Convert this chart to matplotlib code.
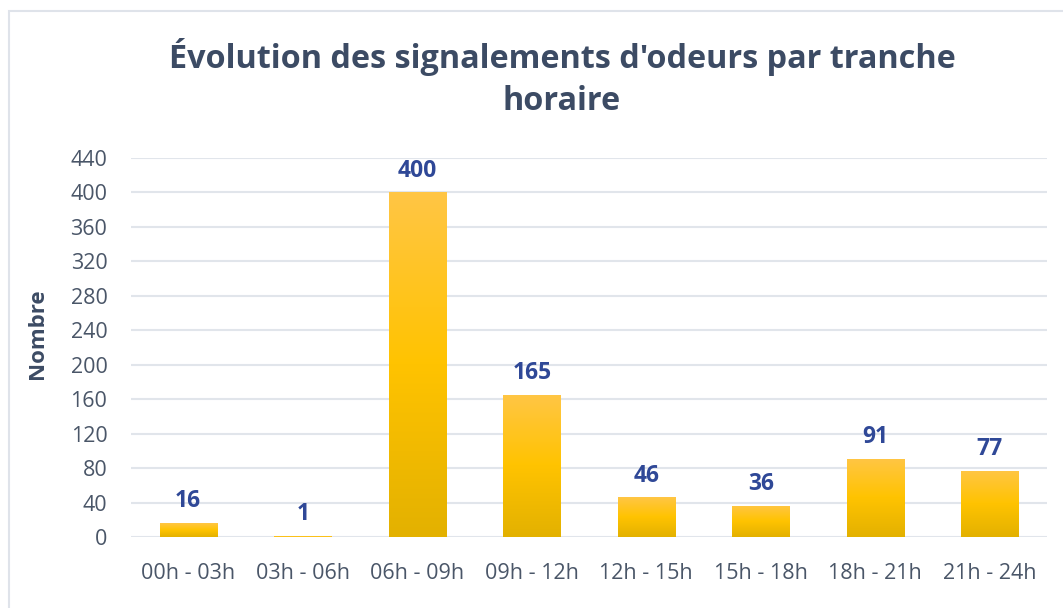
import matplotlib
matplotlib.use("Agg")
import matplotlib.pyplot as plt
import numpy as np
from matplotlib.colors import LinearSegmentedColormap
from matplotlib.patches import Rectangle

categories = ["00h - 03h", "03h - 06h", "06h - 09h", "09h - 12h",
              "12h - 15h", "15h - 18h", "18h - 21h", "21h - 24h"]
values = [16, 1, 400, 165, 46, 36, 91, 77]
yticks = list(range(0, 441, 40))
title = "Évolution des signalements d'odeurs par tranche\nhoraire"
ylabel = "Nombre"

plt.rcParams['font.family'] = ['Open Sans', 'DejaVu Sans']

W, H = 1063, 608
fig = plt.figure(figsize=(W / 100, H / 100), dpi=100)
fig.patch.set_facecolor("white")

# figure border
fig.patches.append(Rectangle((9 / W, -0.1), 1.2, 1 - 11 / H + 0.1,
                             transform=fig.transFigure, fill=False,
                             edgecolor="#dfe3ea", linewidth=1.5, zorder=0))

left, right = 131 / W, 1047 / W
bottom, top = 1 - 537 / H, 1 - 158 / H
ax = fig.add_axes([left, bottom, right - left, top - bottom])

x = np.arange(len(categories))
bw = 0.5

cmap = LinearSegmentedColormap.from_list(
    "g", [(0.0, "#e3b100"), (0.5, "#ffc300"), (1.0, "#ffc645")])
grad = np.linspace(0, 1, 256).reshape(-1, 1)

bars = ax.bar(x, values, width=bw, color="none", edgecolor="none", zorder=3)
for b, v in zip(bars, values):
    x0 = b.get_x()
    im = ax.imshow(grad, cmap=cmap, origin="lower", aspect="auto",
                   extent=[x0, x0 + bw, 0, v], zorder=3)
    im.set_clip_path(b)
    ax.annotate(str(v), (b.get_x() + bw / 2, v), xytext=(0, 7),
                textcoords="offset points", ha="center", va="bottom",
                fontsize=16.5, fontweight="bold", color="#2f4897", zorder=5)
ax.set_xlim(-0.5, len(categories) - 0.5)
ax.set_ylim(0, 440)

ax.set_yticks(yticks)
ax.set_xticks(x)
ax.set_xticklabels(categories)
ax.tick_params(axis="both", length=0, labelsize=15.5, colors="#4a5668")
ax.tick_params(axis="x", pad=19)
ax.tick_params(axis="y", pad=17)
ax.grid(axis="y", color="#e1e5eb", linewidth=1.5, zorder=0)
ax.set_axisbelow(True)
for s in ax.spines.values():
    s.set_visible(False)

ax.set_ylabel(ylabel, fontsize=16, fontweight="bold", color="#3c4b64",
              va="center")
ax.yaxis.set_label_coords(-0.1026, 0.536)

fig.text(562 / W, 1 - 78 / H, title, ha="center", va="center",
         fontsize=23.3, fontweight="bold", color="#3c4b64", linespacing=1.35)

fig.savefig("out.png", dpi=100, facecolor="white")
